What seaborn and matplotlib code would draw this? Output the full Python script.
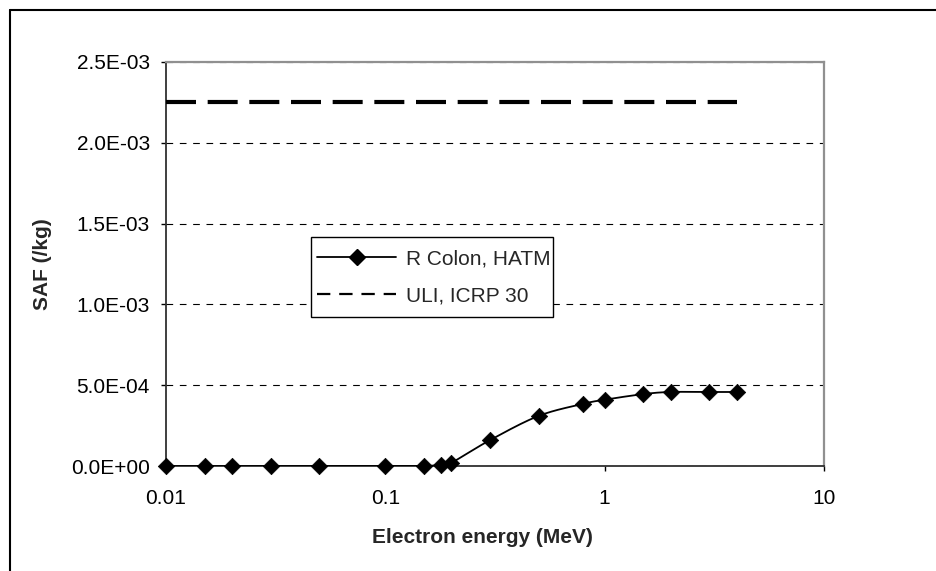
import numpy as np
import pandas as pd
import matplotlib
matplotlib.use("Agg")
import matplotlib.pyplot as plt
from matplotlib.lines import Line2D
from matplotlib.patches import Rectangle
import seaborn as sns

# ---- data ----
energy = [0.01, 0.015, 0.02, 0.03, 0.05, 0.1, 0.15, 0.18, 0.2, 0.3, 0.5, 0.8, 1.0, 1.5, 2.0, 3.0, 4.0]
saf_colon = [0.0, 0.0, 0.0, 0.0, 0.0, 0.0, 0.0, 8e-6, 2.0e-5, 1.6e-4, 3.1e-4, 3.85e-4, 4.1e-4, 4.45e-4, 4.58e-4, 4.58e-4, 4.58e-4]
uli_energy = [0.01, 4.0]
uli_saf = [2.25e-3, 2.25e-3]
series_names = ["R Colon, HATM", "ULI, ICRP 30"]
x_ticks = [0.01, 0.1, 1, 10]
x_tick_labels = ["0.01", "0.1", "1", "10"]
y_ticks = [0.0, 5e-4, 1e-3, 1.5e-3, 2e-3, 2.5e-3]

# smoothed rendering of the line (Excel-style Catmull-Rom in log-x space)
def smooth(xs, ys, n=30):
    u = np.log10(np.asarray(xs, float))
    v = np.asarray(ys, float)
    P = np.column_stack([u, v])
    P = np.vstack([P[0], P, P[-1]])
    out = []
    t = np.linspace(0, 1, n, endpoint=False)[:, None]
    for i in range(1, len(P) - 2):
        p0, p1, p2, p3 = P[i - 1], P[i], P[i + 1], P[i + 2]
        c = 0.5 * ((2 * p1) + (-p0 + p2) * t + (2 * p0 - 5 * p1 + 4 * p2 - p3) * t ** 2
                   + (-p0 + 3 * p1 - 3 * p2 + p3) * t ** 3)
        out.append(c)
    out.append(P[-2][None, :])
    C = np.vstack(out)
    return 10 ** C[:, 0], C[:, 1]

sns.set_style("white")
plt.rcParams["font.family"] = ["Liberation Sans", "DejaVu Sans"]

FS = 15
W, H = 936, 571
AX_L, AX_R, AX_T, AX_B = 166, 824, 62, 466

fig = plt.figure(figsize=(W / 100, H / 100), dpi=100)
ax = fig.add_axes([AX_L / W, 1 - AX_B / H, (AX_R - AX_L) / W, (AX_B - AX_T) / H])

def axfrac(px, py):
    return (px - AX_L) / (AX_R - AX_L), (AX_B - py) / (AX_B - AX_T)

sx, sy = smooth(energy, saf_colon)
df_s = pd.DataFrame({"x": sx, "y": sy})
df_p = pd.DataFrame({"x": energy, "y": saf_colon})
df_u = pd.DataFrame({"x": uli_energy, "y": uli_saf})

sns.lineplot(data=df_s, x="x", y="y", ax=ax, color="black", lw=1.3, sort=False,
             estimator=None, zorder=3)
sns.scatterplot(data=df_p, x="x", y="y", ax=ax, marker="D", s=70, color="black",
                edgecolor="black", linewidth=0.5, zorder=4, clip_on=False)
sns.lineplot(data=df_u, x="x", y="y", ax=ax, color="black", lw=3.0, zorder=3)
ax.lines[-1].set_dashes((7.2, 2.8))

ax.set_xscale("log")
ax.set_xlim(0.01, 10)
ax.set_ylim(0, 2.5e-3)
ax.set_xticks(x_ticks)
ax.set_xticklabels(x_tick_labels)
ax.xaxis.set_minor_locator(matplotlib.ticker.NullLocator())
ax.set_yticks(y_ticks)
ax.set_yticklabels([f"{v:.1E}" for v in y_ticks])

ax.tick_params(axis="both", which="major", direction="out", length=3.6, width=1,
               color="black", labelsize=FS, labelcolor="black",
               bottom=True, left=True)
ax.tick_params(axis="y", pad=8.0)
ax.tick_params(axis="x", pad=13)

ax.yaxis.grid(True, color="black", linestyle=(0, (6, 6)), lw=0.8)
ax.xaxis.grid(False)
ax.set_axisbelow(True)

for side in ["left", "bottom"]:
    ax.spines[side].set_color("#303030")
    ax.spines[side].set_linewidth(1.3)
for side in ["top", "right"]:
    ax.spines[side].set_color("#909090")
    ax.spines[side].set_linewidth(1.6)

ax.set_xlabel("Electron energy (MeV)", fontsize=FS, fontweight="bold")
ax.set_ylabel("SAF (/kg)", fontsize=FS, fontweight="bold")
ax.xaxis.set_label_coords(*axfrac(482, 528))
ax.yaxis.set_label_coords(axfrac(52, 0)[0], 0.5)

# legend box frame (drawn separately to match the tight right padding)
x0, y0 = axfrac(311, 317)
x1, y1 = axfrac(553, 237)
ax.add_patch(Rectangle((x0, y0), x1 - x0, y1 - y0, transform=ax.transAxes,
                       facecolor="white", edgecolor="black", lw=1.0, zorder=5,
                       clip_on=False))

handles = [
    Line2D([], [], color="black", lw=1.3, marker="D", markersize=8),
    Line2D([], [], color="black", lw=1.6, linestyle=(0, (6, 4))),
]
leg = ax.legend(handles, series_names, loc="upper left",
                bbox_to_anchor=axfrac(311, 243.5),
                fontsize=FS, frameon=False, borderpad=0.3,
                handlelength=3.8, handletextpad=0.45, labelspacing=0.85,
                borderaxespad=0)
leg.set_zorder(6)

# outer chart border (top and left visible)
fig.add_artist(Line2D([10 / W, 1.0], [1 - 10 / H, 1 - 10 / H],
                      transform=fig.transFigure, color="black", lw=1.5))
fig.add_artist(Line2D([10 / W, 10 / W], [0, 1 - 10 / H],
                      transform=fig.transFigure, color="black", lw=1.5))

fig.savefig("out.png", dpi=100, facecolor="white")
